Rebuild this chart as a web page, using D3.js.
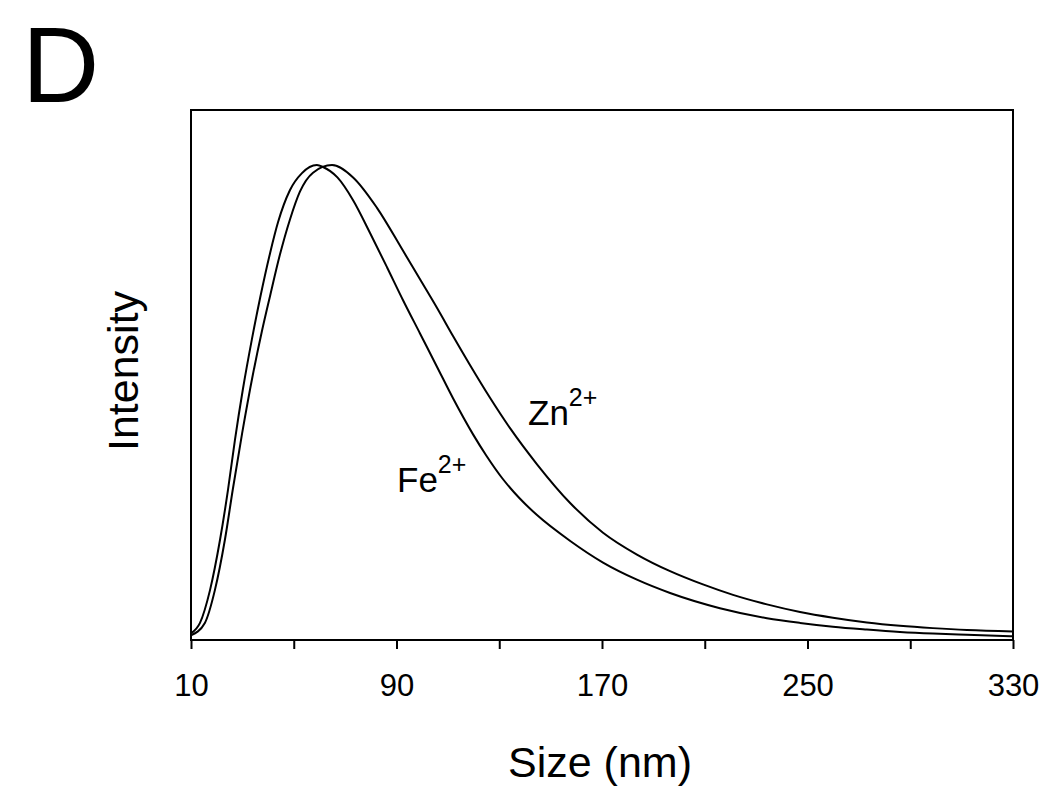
<!DOCTYPE html>
<html>
<head>
<meta charset="utf-8">
<script src="https://cdn.jsdelivr.net/npm/d3@7"></script>
<style>
  body { margin: 0; background: #fff; }
  text { font-family: "Liberation Sans", Arial, sans-serif; fill: #000; }
</style>
</head>
<body>
<div id="graph-wrapper"></div>
<script>
// values (size in nm, intensity in arbitrary units, peak = 100)
const feSize = [10, 13.5, 17.4, 21.3, 24.4, 27.1, 30.2, 33.7, 36.9, 40.8, 43.9, 48.5, 53.2, 59.0, 61.4, 67.0, 73.1, 79.7, 86.3, 92.5, 99.1, 105.8, 112.0, 119.8, 125.0, 131.4, 138.0, 144.7, 157.5, 170.4, 183.6, 196.5, 215.9, 234.2, 247.1, 259.9, 273.1, 286.0, 298.8, 312.1, 330];
const feIntensity = [1.4, 3.6, 10.5, 21.1, 31.6, 42.1, 52.8, 63.3, 72.0, 81.5, 88.0, 94.7, 98.3, 100, 99.6, 97.4, 92.6, 85.7, 78.5, 71.6, 64.6, 57.5, 50.9, 43.3, 38.8, 33.9, 29.8, 26.3, 20.9, 16.3, 12.7, 9.9, 6.7, 4.6, 3.6, 2.8, 2.2, 1.7, 1.35, 1.1, 0.8];

const znSize = [10, 15.4, 19.3, 23.2, 26.3, 29.9, 34.1, 37.6, 40.8, 44.6, 48.5, 52.4, 57.5, 64.9, 73.1, 82.4, 92.5, 99.1, 105.8, 112.0, 118.6, 126.4, 134.2, 144.7, 157.5, 170.4, 183.6, 196.5, 209.3, 221.0, 234.2, 247.1, 259.9, 273.1, 286.0, 298.8, 312.1, 330];
const znIntensity = [1.0, 3.6, 10.5, 21.1, 31.8, 43.5, 55.9, 65.0, 72.5, 81.1, 88.5, 94.4, 98.4, 100, 97.4, 91.0, 82.0, 76.0, 69.9, 64.0, 57.9, 51.0, 44.6, 37.0, 28.9, 22.6, 18.0, 14.5, 11.7, 9.5, 7.5, 5.9, 4.7, 3.7, 3.0, 2.5, 2.1, 1.8];

const xTicks = [10, 50, 90, 130, 170, 210, 250, 290, 330];
const xLabels = [10, 90, 170, 250, 330];

// chart dimensions
const width = 1050;
const height = 788;
const marginTop = 110;
const marginRight = 37;
const marginBottom = 148;
const marginLeft = 191;

const svg = d3.select("#graph-wrapper").append("svg")
    .attr("width", width)
    .attr("height", height);

const x = d3.scaleLinear().domain([10, 330]).range([marginLeft, width - marginRight]);
const y = d3.scaleLinear().domain([0, 111.6]).range([height - marginBottom, marginTop]);

// curves
const line = d3.line()
  .x(d => x(d[0]))
  .y(d => y(d[1]))
  .curve(d3.curveMonotoneX);

const series = [
  d3.zip(feSize, feIntensity),
  d3.zip(znSize, znIntensity)
];

svg.append("g")
  .selectAll("path")
  .data(series)
  .enter()
  .append("path")
  .attr("fill", "none")
  .attr("stroke", "#000")
  .attr("stroke-width", 2)
  .attr("d", line);

// frame
svg.append("rect")
  .attr("x", x(10))
  .attr("y", marginTop)
  .attr("width", x(330) - x(10))
  .attr("height", y(0) - marginTop)
  .attr("fill", "none")
  .attr("stroke", "#000")
  .attr("stroke-width", 2);

// x axis
const xAxis = d3.axisBottom(x)
  .tickValues(xTicks)
  .tickSize(9)
  .tickPadding(25)
  .tickFormat(d => xLabels.includes(d) ? d : "");

const gx = svg.append("g")
  .attr("transform", `translate(0, ${y(0)})`)
  .call(xAxis);

gx.select(".domain").remove();
gx.selectAll("line").attr("stroke", "#000").attr("stroke-width", 2);
gx.selectAll("text")
  .style("font-size", "31px")
  .style("font-family", '"Liberation Sans", Arial, sans-serif');

// axis titles
svg.append("text")
  .text("Size (nm)")
  .attr("x", (x(10) + x(330)) / 2 - 2)
  .attr("y", 777)
  .attr("text-anchor", "middle")
  .style("font-size", "43px");

svg.append("text")
  .text("Intensity")
  .attr("transform", `translate(138, ${371}) rotate(-90)`)
  .attr("text-anchor", "middle")
  .style("font-size", "43px");

// panel letter
svg.append("text")
  .text("D")
  .attr("x", 22)
  .attr("y", 102)
  .style("font-size", "107px");

// series labels
const labels = [
  { name: "Zn", x: 528, y: 425 },
  { name: "Fe", x: 397, y: 492 }
];

const lab = svg.append("g")
  .selectAll("text")
  .data(labels)
  .enter()
  .append("text")
  .attr("x", d => d.x)
  .attr("y", d => d.y)
  .style("font-size", "35px");

lab.append("tspan").text(d => d.name);
lab.append("tspan")
  .text("2+")
  .attr("dy", -19)
  .style("font-size", "25px");
</script>
</body>
</html>
